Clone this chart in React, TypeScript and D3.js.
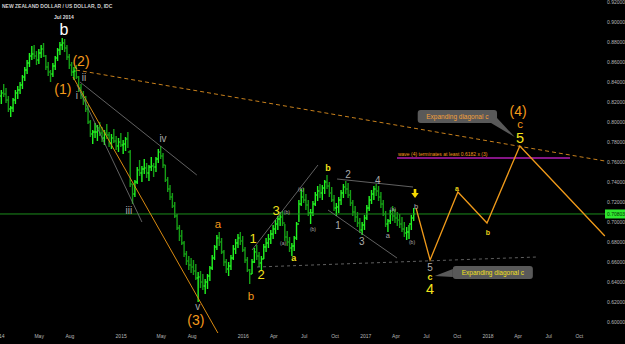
import * as d3 from 'd3';

// weekly bars [high, low, close], first week starts 6 Jan 2014
const bars2014: number[][] = [
  [0.832, 0.818, 0.829], [0.838, 0.825, 0.828], [0.834, 0.819, 0.822], [0.826, 0.810, 0.813],
  [0.816, 0.805, 0.814], [0.824, 0.810, 0.822], [0.832, 0.818, 0.829], [0.836, 0.823, 0.832],
  [0.840, 0.828, 0.837], [0.847, 0.833, 0.845], [0.855, 0.841, 0.852], [0.862, 0.848, 0.859],
  [0.869, 0.855, 0.866], [0.876, 0.862, 0.868], [0.877, 0.863, 0.866], [0.871, 0.857, 0.862],
  [0.873, 0.858, 0.869], [0.877, 0.864, 0.873], [0.879, 0.865, 0.866], [0.867, 0.852, 0.855],
  [0.860, 0.846, 0.850], [0.852, 0.840, 0.848], [0.859, 0.845, 0.856], [0.866, 0.852, 0.864],
  [0.874, 0.861, 0.872], [0.880, 0.867, 0.877], [0.884, 0.872, 0.879], [0.883, 0.870, 0.874],
  [0.877, 0.862, 0.865], [0.868, 0.853, 0.857], [0.860, 0.846, 0.850], [0.855, 0.842, 0.851],
  [0.857, 0.843, 0.845], [0.846, 0.830, 0.834], [0.838, 0.823, 0.827], [0.831, 0.817, 0.822],
  [0.826, 0.810, 0.813], [0.817, 0.798, 0.800], [0.802, 0.785, 0.788], [0.792, 0.778, 0.790],
  [0.799, 0.784, 0.790], [0.797, 0.781, 0.794], [0.800, 0.786, 0.789], [0.795, 0.780, 0.784],
  [0.792, 0.777, 0.789], [0.798, 0.783, 0.787], [0.790, 0.775, 0.779], [0.788, 0.773, 0.784],
  [0.793, 0.779, 0.781], [0.786, 0.772, 0.776], [0.784, 0.770, 0.780], [0.789, 0.775, 0.777],
];
const bars2015: number[][] = [
  [0.782, 0.768, 0.778], [0.785, 0.771, 0.783], [0.790, 0.774, 0.770], [0.772, 0.735, 0.738],
  [0.738, 0.718, 0.728], [0.742, 0.725, 0.740], [0.755, 0.738, 0.752], [0.762, 0.746, 0.749],
  [0.756, 0.740, 0.753], [0.763, 0.748, 0.754], [0.759, 0.744, 0.749], [0.757, 0.741, 0.755],
  [0.765, 0.751, 0.756], [0.759, 0.745, 0.755], [0.765, 0.750, 0.763], [0.773, 0.759, 0.770],
  [0.776, 0.763, 0.766], [0.769, 0.754, 0.757], [0.757, 0.740, 0.742], [0.745, 0.730, 0.733],
  [0.737, 0.722, 0.725], [0.729, 0.714, 0.716], [0.720, 0.704, 0.706], [0.708, 0.692, 0.694],
  [0.697, 0.681, 0.686], [0.692, 0.677, 0.679], [0.681, 0.665, 0.668], [0.671, 0.657, 0.661],
  [0.666, 0.652, 0.657], [0.664, 0.649, 0.655], [0.662, 0.647, 0.651], [0.658, 0.642, 0.644],
  [0.650, 0.620, 0.645], [0.651, 0.634, 0.640], [0.648, 0.632, 0.636], [0.643, 0.628, 0.640],
  [0.648, 0.633, 0.646], [0.656, 0.641, 0.654], [0.667, 0.652, 0.664], [0.677, 0.662, 0.675],
  [0.687, 0.672, 0.684], [0.690, 0.676, 0.680], [0.684, 0.668, 0.670], [0.672, 0.656, 0.660],
  [0.663, 0.649, 0.653], [0.660, 0.646, 0.656], [0.667, 0.652, 0.664], [0.677, 0.662, 0.673],
  [0.683, 0.668, 0.679], [0.688, 0.674, 0.684], [0.690, 0.677, 0.681], [0.686, 0.670, 0.672],
];
const bars2016: number[][] = [
  [0.675, 0.659, 0.662], [0.665, 0.650, 0.652], [0.653, 0.638, 0.648], [0.663, 0.648, 0.660],
  [0.674, 0.659, 0.670], [0.677, 0.662, 0.666], [0.670, 0.655, 0.659], [0.666, 0.652, 0.663],
  [0.678, 0.663, 0.675], [0.684, 0.670, 0.679], [0.688, 0.674, 0.683], [0.692, 0.678, 0.688],
  [0.697, 0.683, 0.693], [0.702, 0.688, 0.698], [0.706, 0.692, 0.703], [0.710, 0.696, 0.705],
  [0.711, 0.696, 0.699], [0.698, 0.681, 0.685], [0.691, 0.676, 0.680], [0.685, 0.670, 0.674],
  [0.679, 0.666, 0.676], [0.686, 0.671, 0.684], [0.700, 0.682, 0.698], [0.722, 0.700, 0.718],
  [0.733, 0.716, 0.725], [0.734, 0.719, 0.722], [0.728, 0.712, 0.717], [0.722, 0.706, 0.709],
  [0.713, 0.698, 0.709], [0.721, 0.706, 0.718], [0.730, 0.716, 0.727], [0.736, 0.721, 0.731],
  [0.738, 0.724, 0.729], [0.737, 0.722, 0.734], [0.742, 0.728, 0.740], [0.747, 0.733, 0.736],
  [0.740, 0.725, 0.729], [0.735, 0.720, 0.722], [0.727, 0.711, 0.714], [0.719, 0.706, 0.715],
  [0.725, 0.709, 0.722], [0.732, 0.717, 0.729], [0.738, 0.724, 0.735], [0.741, 0.728, 0.733],
  [0.739, 0.724, 0.727], [0.732, 0.716, 0.719], [0.722, 0.706, 0.710], [0.716, 0.700, 0.705],
  [0.710, 0.695, 0.699], [0.704, 0.689, 0.692], [0.700, 0.687, 0.697], [0.707, 0.692, 0.704],
];
const bars2017: number[][] = [
  [0.717, 0.702, 0.714], [0.726, 0.711, 0.722], [0.732, 0.718, 0.728], [0.736, 0.722, 0.733],
  [0.738, 0.726, 0.731], [0.736, 0.721, 0.725], [0.730, 0.714, 0.718], [0.722, 0.706, 0.708],
  [0.711, 0.695, 0.698], [0.703, 0.690, 0.701], [0.712, 0.698, 0.708], [0.716, 0.701, 0.706],
  [0.713, 0.699, 0.704], [0.710, 0.696, 0.702], [0.708, 0.694, 0.698], [0.705, 0.690, 0.693],
  [0.700, 0.685, 0.689], [0.695, 0.682, 0.690], [0.697, 0.683, 0.698], [0.707, 0.692, 0.704],
  [0.714, 0.701, 0.708],
];
const lastClose = 0.70803;

const priceTicks = [0.6, 0.62, 0.64, 0.66, 0.68, 0.7, 0.72, 0.74, 0.76, 0.78, 0.8, 0.82, 0.84, 0.86, 0.88, 0.9, 0.92];
const timeTickDates = [
  '2014-01-01', '2014-05-01', '2014-08-01', '2015-01-01', '2015-05-01', '2015-08-01',
  '2016-01-01', '2016-04-01', '2016-07-01', '2016-10-01', '2017-01-01', '2017-04-01',
  '2017-07-01', '2017-10-01', '2018-01-01', '2018-04-01', '2018-07-01', '2018-10-01',
];
const timeTickLabels = ['2014', 'May', 'Aug', '2015', 'May', 'Aug', '2016', 'Apr', 'Jul', 'Oct', '2017', 'Apr', 'Jul', 'Oct', '2018', 'Apr', 'Jul', 'Oct'];

// trend lines [date, price] -> [date, price]
const grayLines: [string, number, string, number][] = [
  ['2014-08-31', 0.840, '2015-08-15', 0.747],
  ['2014-08-22', 0.837, '2015-03-04', 0.700],
  ['2016-01-27', 0.672, '2016-08-11', 0.757],
  ['2016-10-07', 0.743, '2017-05-22', 0.735],
  ['2016-09-10', 0.712, '2017-04-04', 0.664],
];
const orangeLines: [string, number, string, number][] = [['2014-08-10', 0.845, '2015-10-17', 0.589]];
const orangeDashed: [string, number, string, number][] = [['2014-08-19', 0.852, '2018-12-16', 0.761]];
const grayDashed: [string, number, string, number][] = [['2016-02-11', 0.655, '2018-05-27', 0.665]];
const targetLevel: [string, number, string, number][] = [['2017-04-04', 0.764, '2018-09-03', 0.764]];

const projection: [string, number][] = [
  ['2017-05-31', 0.714], ['2017-07-12', 0.662], ['2017-10-03', 0.730],
  ['2017-12-29', 0.699], ['2018-04-06', 0.776], ['2018-12-16', 0.686],
];

// wave labels [text, date, price, degree]
const waveLabels: [string, string, number, string][] = [
  ['b', '2014-07-14', 0.887, 'cycle'],
  ['(1)', '2014-07-11', 0.828, 'primary'],
  ['(2)', '2014-09-03', 0.856, 'primary'],
  ['(3)', '2015-08-12', 0.597, 'primary'],
  ['(4)', '2018-04-01', 0.806, 'primary'],
  ['i', '2014-08-22', 0.823, 'minor'],
  ['ii', '2014-09-12', 0.841, 'minor'],
  ['iii', '2015-01-24', 0.708, 'minor'],
  ['iv', '2015-05-06', 0.780, 'minor'],
  ['v', '2015-08-18', 0.612, 'minor'],
  ['a', '2015-10-17', 0.694, 'inter'],
  ['b', '2016-01-24', 0.622, 'inter'],
  ['c', '2018-04-07', 0.794, 'inter'],
  ['1', '2016-01-30', 0.679, 'major'],
  ['2', '2016-02-23', 0.643, 'major'],
  ['3', '2016-04-08', 0.707, 'major'],
  ['5', '2018-04-07', 0.779, 'target'],
  ['4', '2017-07-12', 0.628, 'target'],
  ['a', '2016-05-31', 0.661, 'sub'],
  ['b', '2016-09-10', 0.751, 'sub'],
  ['c', '2017-07-12', 0.642, 'sub'],
  ['a', '2017-09-30', 0.731, 'proj'],
  ['b', '2018-01-01', 0.687, 'proj'],
  ['1', '2016-10-10', 0.693, 'minor'],
  ['2', '2016-11-09', 0.744, 'minor'],
  ['3', '2016-12-20', 0.677, 'minor'],
  ['4', '2017-02-06', 0.738, 'minor'],
  ['5', '2017-07-12', 0.651, 'minor'],
  ['a', '2017-03-08', 0.684, 'minute'],
  ['b', '2017-05-31', 0.713, 'minute'],
  ['(a)', '2016-04-29', 0.677, 'tiny'],
  ['(b)', '2016-05-10', 0.708, 'tiny'],
  ['(c)', '2016-06-21', 0.731, 'tiny'],
  ['(b)', '2016-07-27', 0.691, 'tiny'],
  ['(a)', '2017-03-23', 0.711, 'tiny'],
  ['(b)', '2017-05-19', 0.678, 'tiny'],
];

// callouts [text, box start, box end, top price, bottom price, tip date, tip price]
const callouts: [string, string, string, number, number, string, number][] = [
  ['Expanding diagonal c', '2017-06-05', '2018-01-28', 0.812, 0.799, '2018-03-22', 0.785],
  ['Expanding diagonal c', '2017-09-18', '2018-05-15', 0.656, 0.643, '2017-07-26', 0.646],
];

const degreeStyle: Record<string, { size: number; fill: string; weight?: string }> = {
  cycle: { size: 16, fill: '#ffffff' },
  primary: { size: 14, fill: '#f59a1b' },
  inter: { size: 11.5, fill: '#f59a1b' },
  major: { size: 13, fill: '#f3e21c' },
  target: { size: 14.5, fill: '#f3e21c' },
  sub: { size: 9, fill: '#f3e21c', weight: 'bold' },
  proj: { size: 7, fill: '#e8d21a', weight: 'bold' },
  minor: { size: 10, fill: '#ababab' },
  minute: { size: 7.5, fill: '#ababab' },
  tiny: { size: 5, fill: '#ababab' },
};

const font = 'Liberation Sans, Arial, sans-serif';
const d = (s: string) => new Date(s);

export default function App() {
  const W = 625, H = 344;
  const x = d3.scaleTime().domain([d('2014-01-01'), d('2018-01-01')]).range([-1, 488]);
  const y = d3.scaleLinear().domain([0.6, 0.92]).range([322, 2]);

  const all = [...bars2014, ...bars2015, ...bars2016, ...bars2017];
  const t0 = Date.UTC(2014, 0, 8);
  const bars = all.map((b, i) => ({
    date: new Date(t0 + i * 7 * 864e5),
    high: b[0], low: b[1], close: b[2],
    open: i ? all[i - 1][2] : 0.826,
  }));

  const seg = (l: [string, number, string, number]) => ({
    x1: x(d(l[0])), y1: y(l[1]), x2: x(d(l[2])), y2: y(l[3]),
  });
  const projPath = d3.line<[string, number]>().x(p => x(d(p[0]))).y(p => y(p[1]))(projection) || '';
  const fmt = d3.format('.5f');
  const arrowX = x(d('2017-05-28'));
  const arrowY = y(0.724);

  return (
    <svg width={W} height={H} style={{ display: 'block', position: 'absolute', left: 0, top: 0, background: '#000' }}>
      <rect width={W} height={H} fill="#000" />
      {/* bars */}
      <g>
        {bars.map((b, i) => {
          const cx = x(b.date);
          const col = b.close >= b.open ? '#22f522' : '#169e16';
          return (
            <g key={i} stroke={col} strokeWidth={1.4}>
              <line x1={cx} x2={cx} y1={y(b.high)} y2={y(b.low)} />
              <line x1={cx - 1.2} x2={cx} y1={y(b.open)} y2={y(b.open)} />
              <line x1={cx} x2={cx + 1.2} y1={y(b.close)} y2={y(b.close)} />
            </g>
          );
        })}
      </g>
      {/* last price line */}
      <line x1={0} x2={605} y1={y(lastClose)} y2={y(lastClose)} stroke="#1c8c1c" strokeWidth={1} />
      {grayLines.map((l, i) => <line key={'g' + i} {...seg(l)} stroke="#7a7a7a" strokeWidth={0.8} />)}
      {orangeLines.map((l, i) => <line key={'o' + i} {...seg(l)} stroke="#d98a10" strokeWidth={1} />)}
      {orangeDashed.map((l, i) => <line key={'od' + i} {...seg(l)} stroke="#c8801c" strokeWidth={1} strokeDasharray="4,3" />)}
      {grayDashed.map((l, i) => <line key={'gd' + i} {...seg(l)} stroke="#777" strokeWidth={0.8} strokeDasharray="3,3" />)}
      {targetLevel.map((l, i) => <line key={'t' + i} {...seg(l)} stroke="#b21cb2" strokeWidth={1.4} />)}
      <path d={projPath} fill="none" stroke="#f09a1a" strokeWidth={1.3} />
      <text x={x(d('2017-04-07'))} y={y(0.766)} fontSize={5} fill="#f59a1b" fontFamily={font}>
        wave (4) terminates at least 0.6182 x (3)
      </text>
      {/* callouts */}
      {callouts.map((c, i) => {
        const bx0 = x(d(c[1])), bx1 = x(d(c[2]));
        const by0 = y(c[3]), by1 = y(c[4]);
        const tx = x(d(c[5])), ty = y(c[6]);
        const tri = tx > bx1
          ? `M${bx1 - 6},${by1} L${bx1},${by1 - 5} L${tx},${ty} Z`
          : `M${bx0},${by0 + 3} L${bx0},${by1 - 2} L${tx},${ty} Z`;
        return (
          <g key={'c' + i}>
            <path d={tri} fill="#595959" />
            <rect x={bx0} y={by0} width={bx1 - bx0} height={by1 - by0} rx={3} fill="#595959" />
            <text x={(bx0 + bx1) / 2} y={(by0 + by1) / 2 + 2.3} textAnchor="middle" fontSize={6.5}
              fill={i === 0 ? '#f5a03a' : '#f3e21c'} fontFamily={font}>{c[0]}</text>
          </g>
        );
      })}
      {/* arrow */}
      <path d={`M${arrowX - 1.3},${arrowY - 9} h2.6 v4 h2.4 L${arrowX},${arrowY} L${arrowX - 3.7},${arrowY - 5} h2.4 Z`} fill="#f5d800" />
      {/* wave labels */}
      {waveLabels.map((l, i) => {
        const s = degreeStyle[l[3]];
        return (
          <text key={'w' + i} x={x(d(l[1]))} y={y(l[2])} textAnchor="middle" fontSize={s.size}
            fill={s.fill} fontWeight={s.weight || 'normal'} fontFamily={font}>{l[0]}</text>
        );
      })}
      <text x={x(d('2014-07-14'))} y={y(0.903)} textAnchor="middle" fontSize={5} fill="#ddd" fontWeight="bold" fontFamily={font}>Jul 2014</text>
      <text x={2} y={8} fontSize={5} fill="#cfcfcf" fontWeight="bold" fontFamily={font}>NEW ZEALAND DOLLAR / US DOLLAR, D, IDC</text>
      {/* price axis */}
      {priceTicks.map(v => (
        <text key={'p' + v} x={607} y={y(v) + 1.8} fontSize={5} fill="#b8b8b8" fontFamily={font}>{fmt(v)}</text>
      ))}
      <rect x={605} y={y(lastClose) - 4.5} width={20} height={9} fill="#2ee62e" />
      <text x={607} y={y(lastClose) + 1.8} fontSize={5} fill="#063006" fontFamily={font}>{fmt(lastClose)}</text>
      {/* time axis */}
      {timeTickDates.map((t, i) => (
        <text key={'x' + i} x={x(d(t))} y={338} textAnchor="middle" fontSize={5} fill="#b8b8b8" fontFamily={font}>{timeTickLabels[i]}</text>
      ))}
    </svg>
  );
}
